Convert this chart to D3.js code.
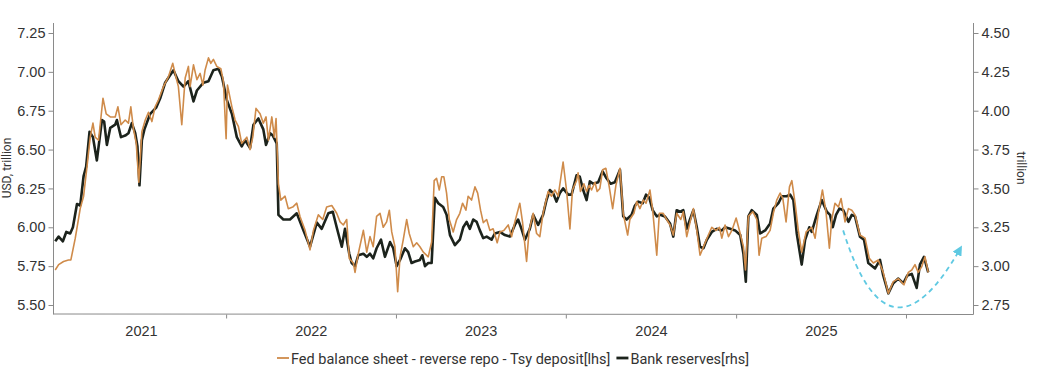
<!DOCTYPE html>
<html>
<head>
<meta charset="utf-8">
<script src="https://cdn.jsdelivr.net/npm/d3@7"></script>
<style>
  body { margin: 0; background: #fff; }
  svg { display: block; font-family: Roboto, "Noto Sans", sans-serif; }
  .axis text { fill: #333; font-size: 14.5px; }
  .axis line { stroke: #8a8a8a; }
  .axis path { display: none; }
</style>
</head>
<body>
<svg id="chart" width="1038" height="369"></svg>
<script>
// [decimal year, USD trillion]
const fedSeries = [
  [2020.994,5.725],[2021.014,5.76],[2021.043,5.78],[2021.072,5.79],[2021.086,5.79],[2021.112,5.93],
  [2021.141,6.12],[2021.161,6.20],[2021.181,6.39],[2021.200,6.58],[2021.216,6.67],[2021.229,6.58],
  [2021.249,6.56],[2021.275,6.83],[2021.294,6.73],[2021.318,6.71],[2021.347,6.71],[2021.363,6.775],
  [2021.381,6.66],[2021.406,6.69],[2021.425,6.67],[2021.439,6.775],[2021.455,6.63],[2021.471,6.54],
  [2021.486,6.29],[2021.504,6.615],[2021.524,6.69],[2021.543,6.74],[2021.563,6.68],[2021.582,6.775],
  [2021.602,6.82],[2021.631,6.905],[2021.661,6.97],[2021.686,7.055],[2021.706,6.96],[2021.719,6.905],
  [2021.739,6.66],[2021.759,6.96],[2021.778,7.035],[2021.788,6.905],[2021.808,7.045],[2021.828,6.95],
  [2021.847,6.99],[2021.863,6.915],[2021.876,7.01],[2021.896,7.09],[2021.910,7.055],[2021.925,7.08],
  [2021.945,7.035],[2021.969,7.02],[2021.984,6.94],[2022.000,6.57],[2022.008,6.915],[2022.034,6.775],
  [2022.053,6.69],[2022.072,6.65],[2022.092,6.54],[2022.122,6.58],[2022.141,6.50],[2022.157,6.58],
  [2022.176,6.765],[2022.200,6.73],[2022.219,6.67],[2022.235,6.71],[2022.249,6.56],[2022.269,6.71],
  [2022.284,6.58],[2022.294,6.70],[2022.308,6.28],[2022.322,6.175],[2022.347,6.20],[2022.366,6.12],
  [2022.392,6.13],[2022.416,6.155],[2022.435,6.07],[2022.465,5.98],[2022.494,5.855],[2022.514,5.98],
  [2022.543,6.08],[2022.569,6.05],[2022.592,6.13],[2022.622,6.14],[2022.651,6.09],[2022.671,6.035],
  [2022.690,6.015],[2022.710,6.05],[2022.725,5.80],[2022.749,5.77],[2022.759,5.71],[2022.778,5.83],
  [2022.798,5.93],[2022.808,5.98],[2022.828,5.84],[2022.847,5.94],[2022.866,5.875],[2022.886,6.07],
  [2022.906,6.09],[2022.925,6.00],[2022.945,6.035],[2022.961,6.11],[2022.975,5.97],[2022.994,5.875],
  [2023.010,5.585],[2023.024,5.81],[2023.043,5.92],[2023.063,6.05],[2023.078,5.96],[2023.102,5.875],
  [2023.122,5.90],[2023.141,5.875],[2023.161,5.84],[2023.190,5.81],[2023.210,5.905],[2023.225,6.30],
  [2023.239,6.315],[2023.255,6.24],[2023.269,6.325],[2023.282,6.325],[2023.298,6.22],[2023.314,6.05],
  [2023.337,5.97],[2023.357,6.05],[2023.376,6.09],[2023.392,6.155],[2023.412,6.11],[2023.425,6.20],
  [2023.445,6.175],[2023.465,6.26],[2023.481,6.22],[2023.498,6.11],[2023.514,6.03],[2023.534,6.05],
  [2023.553,5.98],[2023.572,5.99],[2023.596,5.90],[2023.612,5.97],[2023.635,5.98],[2023.661,6.015],
  [2023.681,5.94],[2023.700,6.035],[2023.729,6.155],[2023.745,6.035],[2023.769,5.78],[2023.784,5.98],
  [2023.808,6.09],[2023.828,5.96],[2023.847,5.94],[2023.866,6.09],[2023.896,6.23],[2023.916,6.20],
  [2023.935,6.24],[2023.955,6.20],[2023.984,6.42],[2024.004,6.24],[2024.024,5.99],[2024.039,6.24],
  [2024.063,6.30],[2024.072,6.35],[2024.086,6.23],[2024.106,6.28],[2024.122,6.23],[2024.137,6.27],
  [2024.151,6.24],[2024.171,6.29],[2024.184,6.23],[2024.200,6.25],[2024.216,6.37],[2024.235,6.38],
  [2024.255,6.26],[2024.275,6.12],[2024.294,6.27],[2024.318,6.38],[2024.337,6.09],[2024.363,5.95],
  [2024.376,6.05],[2024.400,6.09],[2024.416,6.165],[2024.435,6.12],[2024.455,6.175],[2024.471,6.155],
  [2024.494,6.24],[2024.510,6.11],[2024.534,5.82],[2024.549,6.09],[2024.572,6.09],[2024.592,6.05],
  [2024.612,6.015],[2024.631,5.95],[2024.651,6.09],[2024.675,6.05],[2024.690,6.10],[2024.710,5.94],
  [2024.733,6.05],[2024.749,6.12],[2024.769,5.98],[2024.788,5.82],[2024.812,5.885],[2024.837,5.95],
  [2024.857,6.00],[2024.882,5.98],[2024.902,6.00],[2024.916,5.93],[2024.935,6.015],[2024.955,5.94],
  [2024.975,5.98],[2025.000,6.06],[2025.024,5.96],[2025.043,5.875],[2025.055,5.725],[2025.072,6.07],
  [2025.098,6.10],[2025.122,6.05],[2025.135,5.82],[2025.151,5.93],[2025.176,5.94],[2025.200,5.98],
  [2025.219,6.09],[2025.239,6.175],[2025.259,6.22],[2025.275,6.185],[2025.294,6.035],[2025.314,6.26],
  [2025.328,6.30],[2025.347,6.155],[2025.366,5.98],[2025.386,5.84],[2025.412,5.97],[2025.445,6.00],
  [2025.465,5.93],[2025.484,6.09],[2025.508,6.24],[2025.529,6.10],[2025.549,5.865],[2025.563,6.05],
  [2025.582,6.155],[2025.602,6.13],[2025.618,6.185],[2025.641,6.035],[2025.661,6.12],[2025.681,6.11],
  [2025.700,6.08],[2025.729,5.95],[2025.759,5.93],[2025.784,5.80],[2025.808,5.77],[2025.837,5.79],
  [2025.866,5.71],[2025.896,5.575],[2025.925,5.65],[2025.955,5.67],[2025.988,5.63],[2026.014,5.71],
  [2026.034,5.725],[2026.053,5.76],[2026.072,5.71],[2026.092,5.745],[2026.112,5.81],[2026.131,5.71]
];

const reserveSeries = [
  [2020.994,3.16],[2021.014,3.19],[2021.039,3.16],[2021.059,3.22],[2021.082,3.21],[2021.098,3.25],
  [2021.122,3.40],[2021.141,3.39],[2021.161,3.58],[2021.176,3.64],[2021.196,3.865],[2021.216,3.83],
  [2021.239,3.68],[2021.269,3.94],[2021.282,3.93],[2021.298,3.78],[2021.318,3.89],[2021.347,3.91],
  [2021.357,3.94],[2021.381,3.83],[2021.406,3.84],[2021.425,3.855],[2021.445,3.92],[2021.465,3.855],
  [2021.478,3.77],[2021.490,3.52],[2021.504,3.81],[2021.519,3.88],[2021.553,3.98],[2021.588,4.02],
  [2021.612,4.08],[2021.641,4.18],[2021.671,4.23],[2021.690,4.26],[2021.719,4.19],[2021.749,4.155],
  [2021.778,4.19],[2021.808,4.06],[2021.828,4.13],[2021.866,4.18],[2021.896,4.19],[2021.925,4.26],
  [2021.955,4.27],[2021.975,4.22],[2022.004,4.07],[2022.034,3.98],[2022.063,3.83],[2022.092,3.77],
  [2022.112,3.81],[2022.141,3.76],[2022.161,3.91],[2022.190,3.95],[2022.219,3.88],[2022.235,3.78],
  [2022.259,3.855],[2022.275,3.84],[2022.298,3.79],[2022.308,3.33],[2022.337,3.30],[2022.376,3.30],
  [2022.416,3.34],[2022.455,3.23],[2022.494,3.125],[2022.534,3.28],[2022.563,3.24],[2022.602,3.34],
  [2022.628,3.35],[2022.651,3.25],[2022.681,3.125],[2022.700,3.24],[2022.725,3.08],[2022.739,3.02],
  [2022.759,3.00],[2022.778,3.07],[2022.808,3.08],[2022.828,3.06],[2022.847,3.08],[2022.866,3.05],
  [2022.886,3.115],[2022.912,3.17],[2022.935,3.06],[2022.965,3.155],[2022.984,3.115],[2023.004,3.00],
  [2023.024,3.04],[2023.053,3.115],[2023.072,3.09],[2023.092,3.02],[2023.112,3.03],[2023.141,3.04],
  [2023.155,3.07],[2023.171,3.00],[2023.190,3.02],[2023.210,3.02],[2023.229,3.44],[2023.249,3.405],
  [2023.278,3.38],[2023.298,3.33],[2023.318,3.20],[2023.347,3.135],[2023.376,3.17],[2023.396,3.25],
  [2023.416,3.285],[2023.435,3.24],[2023.455,3.30],[2023.475,3.285],[2023.494,3.23],[2023.514,3.18],
  [2023.534,3.19],[2023.563,3.17],[2023.582,3.21],[2023.612,3.22],[2023.641,3.20],[2023.671,3.19],
  [2023.700,3.265],[2023.719,3.30],[2023.739,3.24],[2023.759,3.17],[2023.788,3.24],[2023.808,3.33],
  [2023.837,3.265],[2023.866,3.33],[2023.886,3.425],[2023.906,3.49],[2023.925,3.47],[2023.945,3.415],
  [2023.965,3.47],[2023.984,3.50],[2024.014,3.46],[2024.034,3.46],[2024.063,3.585],[2024.082,3.575],
  [2024.102,3.49],[2024.122,3.425],[2024.141,3.545],[2024.161,3.53],[2024.190,3.54],[2024.216,3.61],
  [2024.239,3.565],[2024.263,3.53],[2024.288,3.54],[2024.318,3.62],[2024.337,3.32],[2024.357,3.30],
  [2024.386,3.33],[2024.406,3.39],[2024.425,3.415],[2024.451,3.405],[2024.471,3.46],[2024.490,3.44],
  [2024.510,3.36],[2024.534,3.32],[2024.553,3.33],[2024.582,3.32],[2024.612,3.275],[2024.631,3.19],
  [2024.651,3.36],[2024.671,3.35],[2024.690,3.36],[2024.710,3.24],[2024.729,3.30],[2024.749,3.36],
  [2024.769,3.25],[2024.788,3.125],[2024.808,3.115],[2024.828,3.17],[2024.857,3.22],[2024.886,3.24],
  [2024.916,3.23],[2024.935,3.25],[2024.965,3.24],[2024.994,3.23],[2025.024,3.20],[2025.043,3.08],
  [2025.057,2.90],[2025.072,3.32],[2025.092,3.36],[2025.122,3.33],[2025.141,3.21],[2025.171,3.23],
  [2025.200,3.275],[2025.219,3.37],[2025.249,3.405],[2025.269,3.45],[2025.298,3.45],[2025.318,3.46],
  [2025.337,3.425],[2025.357,3.21],[2025.386,3.01],[2025.406,3.17],[2025.431,3.25],[2025.445,3.22],
  [2025.475,3.33],[2025.504,3.425],[2025.534,3.35],[2025.553,3.33],[2025.569,3.25],[2025.588,3.33],
  [2025.608,3.37],[2025.631,3.36],[2025.661,3.285],[2025.681,3.33],[2025.700,3.32],[2025.729,3.19],
  [2025.753,3.17],[2025.778,3.02],[2025.818,2.985],[2025.847,3.04],[2025.866,2.94],[2025.896,2.825],
  [2025.925,2.89],[2025.955,2.92],[2025.984,2.89],[2026.008,2.94],[2026.034,2.95],[2026.063,2.86],
  [2026.082,3.01],[2026.106,3.06],[2026.131,2.96]
];

const leftTicks = [5.50, 5.75, 6.00, 6.25, 6.50, 6.75, 7.00, 7.25];
const rightTicks = [2.75, 3.00, 3.25, 3.50, 3.75, 4.00, 4.25, 4.50];
const yearLabels = ["2021", "2022", "2023", "2024", "2025"];
const yearBreaks = [2022, 2023, 2024, 2025, 2026];
const legendLabels = ["Fed balance sheet - reverse repo - Tsy deposit[lhs]", "Bank reserves[rhs]"];
// rebound sketch: start, control, end as [decimal year, lhs value]
const arrowPts = [[2025.63, 5.98], [2025.897, 5.053], [2026.318, 5.86]];

const orange = "#cf8b4a", dark = "#1c231c", cyan = "#5fc9e2";

function toDate(t) {
  const y = Math.floor(t);
  const s = new Date(y, 0, 1), e = new Date(y + 1, 0, 1);
  return new Date(+s + (t - y) * (e - s));
}

const svg = d3.select("#chart");
const plotL = 53, plotR = 973, plotT = 23, plotB = 314;

const x = d3.scaleTime()
  .domain([new Date(2020, 11, 25), new Date(2026, 4, 25)])
  .range([plotL, plotR]);
const yL = d3.scaleLinear().domain([5.5, 7.25]).range([305, 33]);
const yR = d3.scaleLinear().domain([2.75, 4.5]).range([305, 33]);

// frame lines
svg.append("g").attr("stroke", "#8a8a8a").attr("stroke-width", 1)
  .selectAll("line")
  .data([[plotL, plotT, plotL, plotB], [plotR, plotT, plotR, plotB], [plotL, plotB, plotR, plotB]])
  .join("line")
  .attr("x1", d => d[0] + 0.5).attr("y1", d => d[1])
  .attr("x2", d => d[2] + 0.5).attr("y2", d => d[3] + 0.5);

svg.append("g").attr("class", "axis")
  .attr("transform", `translate(${plotL + 0.5},0)`)
  .call(d3.axisLeft(yL).tickValues(leftTicks).tickSize(5).tickPadding(3)
    .tickSizeOuter(0).tickFormat(d3.format(".2f")));

svg.append("g").attr("class", "axis")
  .attr("transform", `translate(${plotR + 0.5},0)`)
  .call(d3.axisRight(yR).tickValues(rightTicks).tickSize(5).tickPadding(3)
    .tickSizeOuter(0).tickFormat(d3.format(".2f")));

svg.append("g").attr("class", "axis")
  .attr("transform", `translate(0,${plotB + 0.5})`)
  .call(d3.axisBottom(x).tickValues(yearBreaks.map(y => new Date(y, 0, 1)))
    .tickSize(4).tickSizeOuter(0).tickFormat(""));

svg.append("g").attr("class", "axis")
  .attr("transform", `translate(0,${plotB + 0.5})`)
  .call(d3.axisBottom(x).tickValues(yearLabels.map(y => new Date(+y, 6, 2)))
    .tickSize(0).tickPadding(11).tickFormat(d => yearLabels[d.getFullYear() - 2021]));

// axis titles
svg.append("text")
  .attr("transform", "translate(11,168) rotate(-90)")
  .attr("text-anchor", "middle").attr("fill", "#333").attr("font-size", 12)
  .text("USD, trillion");
svg.append("text")
  .attr("transform", "translate(1017,168) rotate(90)")
  .attr("text-anchor", "middle").attr("fill", "#333").attr("font-size", 12)
  .text("trillion");

// lines
const lineR = d3.line().x(d => x(toDate(d[0]))).y(d => yR(d[1]));
const lineL = d3.line().x(d => x(toDate(d[0]))).y(d => yL(d[1]));

svg.append("path").datum(reserveSeries)
  .attr("d", lineR).attr("fill", "none")
  .attr("stroke", dark).attr("stroke-width", 2.6).attr("stroke-linejoin", "round");

svg.append("path").datum(fedSeries)
  .attr("d", lineL).attr("fill", "none")
  .attr("stroke", orange).attr("stroke-width", 1.6).attr("stroke-linejoin", "round");

// dashed arrow
svg.append("defs").append("marker")
  .attr("id", "head").attr("viewBox", "0 0 10 10")
  .attr("refX", 6).attr("refY", 5)
  .attr("markerWidth", 10).attr("markerHeight", 10)
  .attr("markerUnits", "userSpaceOnUse")
  .attr("orient", "auto")
  .append("path").attr("d", "M0,0 L10,5 L0,10 z").attr("fill", cyan);

const ap = arrowPts.map(p => [x(toDate(p[0])), yL(p[1])]);
const pth = d3.path();
pth.moveTo(ap[0][0], ap[0][1]);
pth.quadraticCurveTo(ap[1][0], ap[1][1], ap[2][0], ap[2][1]);
svg.append("path").attr("d", pth.toString())
  .attr("fill", "none").attr("stroke", cyan).attr("stroke-width", 1.8)
  .attr("stroke-dasharray", "5,4").attr("marker-end", "url(#head)");

// legend
const legend = svg.append("g").attr("font-size", 14.5).attr("fill", "#333");
const legColors = [orange, dark];
let lx = 277;
legendLabels.forEach((lab, i) => {
  legend.append("line")
    .attr("x1", lx).attr("x2", lx + 12)
    .attr("y1", 358).attr("y2", 358)
    .attr("stroke", legColors[i]).attr("stroke-width", i ? 2.8 : 1.8);
  const t = legend.append("text")
    .attr("x", lx + 14).attr("y", 363.5)
    .text(lab);
  lx += 14 + t.node().getComputedTextLength() + 6;
});
</script>
</body>
</html>
